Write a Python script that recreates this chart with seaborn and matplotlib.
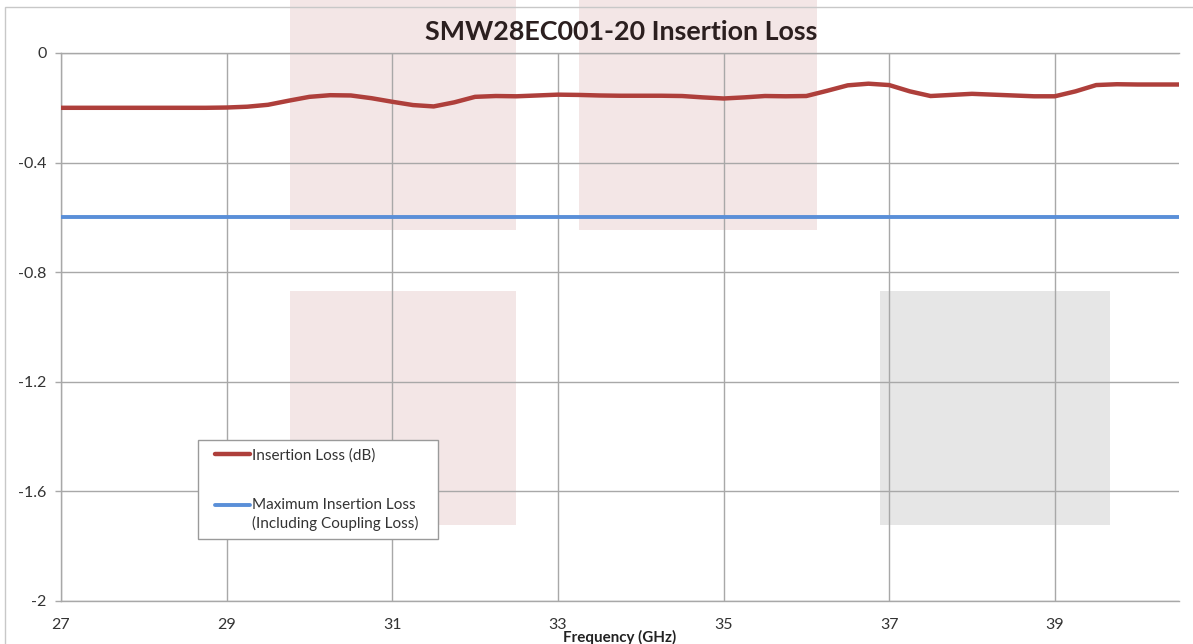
import numpy as np
import pandas as pd
import seaborn as sns
import matplotlib.pyplot as plt
from matplotlib.patches import Rectangle
from matplotlib.ticker import FuncFormatter

freq = [27.0, 27.25, 27.5, 27.75, 28.0, 28.25, 28.5, 28.75, 29.0, 29.25,
        29.5, 29.75, 30.0, 30.25, 30.5, 30.75, 31.0, 31.25, 31.5, 31.75,
        32.0, 32.25, 32.5, 32.75, 33.0, 33.25, 33.5, 33.75, 34.0, 34.25,
        34.5, 34.75, 35.0, 35.25, 35.5, 35.75, 36.0, 36.25, 36.5, 36.75,
        37.0, 37.25, 37.5, 37.75, 38.0, 38.25, 38.5, 38.75, 39.0, 39.25,
        39.5, 39.75, 40.0, 40.25, 40.5]
insertion_loss = [-0.200, -0.200, -0.200, -0.200, -0.200, -0.200, -0.200, -0.200, -0.199, -0.196,
                  -0.189, -0.174, -0.160, -0.154, -0.155, -0.165, -0.178, -0.190, -0.195, -0.180,
                  -0.160, -0.157, -0.158, -0.155, -0.152, -0.153, -0.155, -0.156, -0.156, -0.156,
                  -0.157, -0.162, -0.166, -0.162, -0.157, -0.158, -0.157, -0.138, -0.118, -0.112,
                  -0.117, -0.140, -0.157, -0.153, -0.149, -0.152, -0.155, -0.158, -0.158, -0.140,
                  -0.117, -0.114, -0.115, -0.115, -0.115]
max_freq = [27.0, 40.5]
max_loss = [-0.6, -0.6]

x_ticks = [27, 29, 31, 33, 35, 37, 39]
y_ticks = [-2, -1.6, -1.2, -0.8, -0.4, 0]

title = "SMW28EC001-20 Insertion Loss"
label_il = "Insertion Loss (dB)"
label_max = "Maximum Insertion Loss\n(Including Coupling Loss)   "

W, H = 1193, 644

sns.set_theme(style="white")
plt.rcParams["font.family"] = ["Lato", "DejaVu Sans"]

fig = plt.figure(figsize=(W / 100, H / 100), dpi=100)
fig.patch.set_facecolor("white")


def px_rect(x0, y0, x1, y1, color):
    # rectangle given in image pixels (top-left origin)
    return Rectangle((x0 / W, 1 - y1 / H), (x1 - x0) / W, (y1 - y0) / H,
                     transform=fig.transFigure, facecolor=color, edgecolor="none", zorder=-5)


# faint background blocks behind the chart
fig.patches.append(px_rect(290, 0, 516, 230, "#f3e6e6"))
fig.patches.append(px_rect(290, 291, 516, 525, "#f3e6e6"))
fig.patches.append(px_rect(579, 0, 817, 230, "#f3e6e6"))
fig.patches.append(px_rect(880, 291, 1110, 525, "#e6e6e6"))
# chart area border
fig.patches.append(Rectangle((5.5 / W, -0.1), 1.2, 1.1 - 7.5 / H, transform=fig.transFigure,
                             facecolor="none", edgecolor="#c8c8c8", linewidth=1, zorder=-4))

ax = fig.add_axes([61 / W, 1 - 601 / H, (1179 - 61) / W, (601 - 53) / H])
ax.patch.set_alpha(0)

df_il = pd.DataFrame({"freq": freq, "loss": insertion_loss})
df_max = pd.DataFrame({"freq": max_freq, "loss": max_loss})
sns.lineplot(data=df_il, x="freq", y="loss", ax=ax, color="#ae3f3b", linewidth=3.2,
             label=label_il, zorder=3)
sns.lineplot(data=df_max, x="freq", y="loss", ax=ax, color="#5a8fd8", linewidth=2.8,
             label=label_max, zorder=3)

ax.set_xlim(27, 40.5)
ax.set_ylim(-2, 0)
ax.set_xticks(x_ticks)
ax.set_yticks(y_ticks)
ax.yaxis.set_major_formatter(FuncFormatter(lambda v, p: f"{v:g}"))
ax.grid(True, color="#a8a8a8", linewidth=1)
for s in ["top", "left", "bottom"]:
    ax.spines[s].set_visible(True)
    ax.spines[s].set_color("#a8a8a8")
    ax.spines[s].set_linewidth(1)
ax.spines["right"].set_visible(False)
ax.tick_params(axis="y", direction="out", length=4.5, width=1, color="#a8a8a8",
               left=True, pad=6, labelsize=11.5, labelcolor="#333333")
ax.tick_params(axis="x", length=0, pad=12, labelsize=11.5, labelcolor="#333333")
ax.set_xlabel("")
ax.set_ylabel("")

fig.text(621 / W, 1 - 32 / H, title, ha="center", va="center", fontsize=19.4,
         fontweight="bold", color="#2b1f1f")
fig.text(620 / W, 1 - 637 / H, "Frequency (GHz)", ha="center", va="center", fontsize=10.9,
         fontweight="bold", color="#222222")

leg = ax.legend(loc="upper left", bbox_to_anchor=(198 / W, 1 - 440 / H),
                bbox_transform=fig.transFigure, frameon=True, fancybox=False,
                framealpha=1, edgecolor="#9a9a9a", fontsize=11, handlelength=2.87,
                handletextpad=0.1, labelspacing=2.33, borderpad=0.55, borderaxespad=0)
leg.get_frame().set_linewidth(1)
for t in leg.get_texts():
    t.set_color("#333333")
    t.set_linespacing(1.3)
# handles start a bit inside the box; the blue one sits on the first text line
for i, h in enumerate(leg.legend_handles):
    xd = np.asarray(h.get_xdata(), dtype=float)
    h.set_xdata(np.linspace(xd[0] + 6.4, xd[-1], len(xd)))
    yd = np.asarray(h.get_ydata(), dtype=float)
    if i == 1:
        yd = yd + 7.2
    h.set_ydata(yd)

fig.savefig("out.png", dpi=100)
